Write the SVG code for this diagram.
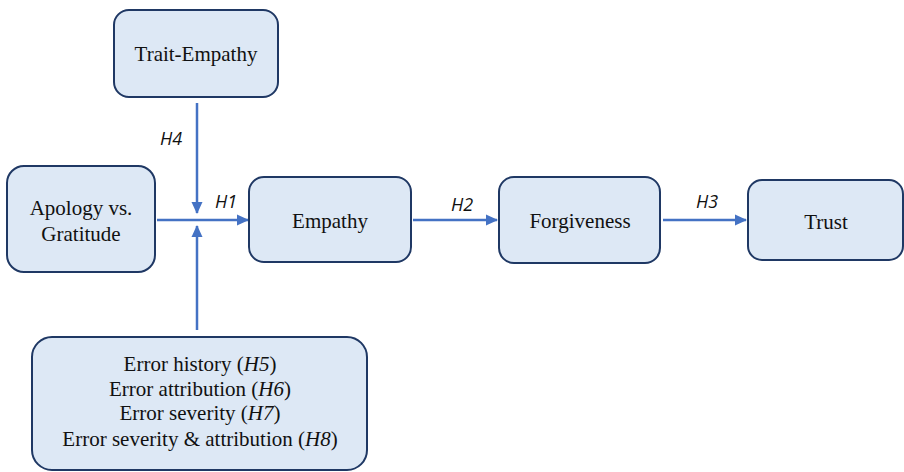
<svg xmlns="http://www.w3.org/2000/svg" width="904" height="472" viewBox="0 0 904 472">
<defs>
<style>
.box{fill:#dde8f5;stroke:#1f3864;stroke-width:2}
.t{font-family:"Liberation Serif","Times New Roman",serif;font-size:21px;fill:#111;text-anchor:middle}
.h{font-family:"Open Sans","Liberation Sans",sans-serif;font-size:18px;font-style:italic;fill:#111;text-anchor:middle}
.c{stroke:#4472c4;stroke-width:2.5;fill:none}
</style>
<marker id="ah" markerWidth="12" markerHeight="12" refX="11" refY="6" orient="auto" markerUnits="userSpaceOnUse">
<path d="M0,0.5 L12,6 L0,11.5 Z" fill="#4472c4"/>
</marker>
</defs>
<rect width="904" height="472" fill="#fff"/>
<g id="connectors">
<line class="c" x1="157" y1="220" x2="248" y2="220" marker-end="url(#ah)"/>
<line class="c" x1="197" y1="103" x2="197" y2="213" marker-end="url(#ah)"/>
<line class="c" x1="197" y1="330" x2="197" y2="226" marker-end="url(#ah)"/>
<line class="c" x1="413" y1="220" x2="497" y2="220" marker-end="url(#ah)"/>
<line class="c" x1="663" y1="220" x2="746" y2="220" marker-end="url(#ah)"/>
<text class="h" x="171" y="145">H4</text>
<text class="h" x="226" y="208">H1</text>
<text class="h" x="462" y="211">H2</text>
<text class="h" x="707" y="208">H3</text>
</g>
<g id="trait-empathy">
<rect class="box" x="114" y="10" width="164" height="87" rx="15"/>
<text class="t" x="196" y="61">Trait-Empathy</text>
</g>
<g id="apology">
<rect class="box" x="7" y="166" width="148" height="106" rx="17"/>
<text class="t" x="81" y="215">Apology vs.</text>
<text class="t" x="81" y="241">Gratitude</text>
</g>
<g id="empathy">
<rect class="box" x="249" y="177" width="162" height="85" rx="15"/>
<text class="t" x="330" y="228">Empathy</text>
</g>
<g id="forgiveness">
<rect class="box" x="499" y="177" width="161" height="86" rx="15"/>
<text class="t" x="580" y="228">Forgiveness</text>
</g>
<g id="trust">
<rect class="box" x="748" y="180" width="155" height="80" rx="14"/>
<text class="t" x="826" y="229">Trust</text>
</g>
<g id="error-factors">
<rect class="box" x="32" y="337" width="335" height="133" rx="20"/>
<text class="t" x="200" y="371">Error history (<tspan font-style="italic">H5</tspan>)</text>
<text class="t" x="200" y="396">Error attribution (<tspan font-style="italic">H6</tspan>)</text>
<text class="t" x="200" y="420">Error severity (<tspan font-style="italic">H7</tspan>)</text>
<text class="t" x="200" y="446">Error severity &amp; attribution (<tspan font-style="italic">H8</tspan>)</text>
</g>
</svg>
